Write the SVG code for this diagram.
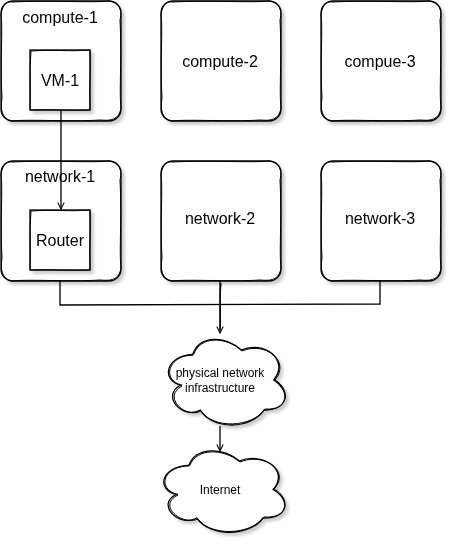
<svg xmlns="http://www.w3.org/2000/svg" width="452" height="552" viewBox="0 0 452 552">
<style>
.b{fill:#fff;stroke:#000;stroke-width:1.3}
.s{fill:none;stroke:#000;stroke-width:1}
.t{font-family:"Liberation Sans",Arial,sans-serif;font-size:16px;fill:#000;text-anchor:middle}
.c{font-family:"Liberation Sans",Arial,sans-serif;font-size:12px;fill:#000;text-anchor:middle}
.e{fill:none;stroke:#000;stroke-width:1.3}
</style>
<defs>
<filter id="sh" x="-10%" y="-10%" width="130%" height="130%">
<feDropShadow dx="3" dy="3" stdDeviation="1.5" flood-color="#000" flood-opacity="0.2"/>
</filter>
<marker id="ar" viewBox="0 0 10 10" refX="9" refY="5" markerWidth="8" markerHeight="8" orient="auto" markerUnits="userSpaceOnUse">
<path d="M1,1 L9,5 L1,9" fill="none" stroke="#000" stroke-width="1.3"/>
</marker>
</defs>
<rect width="452" height="552" fill="#fff"/>
<g id="compute-1" filter="url(#sh)">
<rect class="b" x="1" y="1" width="120" height="120" rx="12"/>
<path class="s" d="M13,2 C50,0 90,3 109,1 C121,3 122,12 120,20 C122,60 119,90 121,108 C119,120 111,121 100,120 C70,122 30,119 12,121 C2,119 0,110 2,98 C0,60 3,30 1,14 C3,3 8,1 13,2"/>
<text class="t" x="60" y="23">compute-1</text>
</g>
<g id="vm-1" filter="url(#sh)">
<rect class="b" x="30" y="50" width="60" height="60"/>
<path class="s" d="M31,51 C50,49 70,52 90,50 C91,70 89,90 90,110 C70,111 50,109 30,110 C31,90 29,70 31,51"/>
<text class="t" x="60" y="86">VM-1</text>
</g>
<g id="compute-2" filter="url(#sh)">
<rect class="b" x="161" y="1" width="120" height="120" rx="12"/>
<path class="s" d="M173,2 C210,0 250,3 269,1 C281,3 282,12 280,20 C282,60 279,90 281,108 C279,120 271,121 260,120 C230,122 190,119 172,121 C162,119 160,110 162,98 C160,60 163,30 161,14 C163,3 168,1 173,2"/>
<text class="t" x="220" y="67">compute-2</text>
</g>
<g id="compue-3" filter="url(#sh)">
<rect class="b" x="321" y="1" width="120" height="120" rx="12"/>
<path class="s" d="M333,2 C370,0 410,3 429,1 C441,3 442,12 440,20 C442,60 439,90 441,108 C439,120 431,121 420,120 C390,122 350,119 332,121 C322,119 320,110 322,98 C320,60 323,30 321,14 C323,3 328,1 333,2"/>
<text class="t" x="380" y="67">compue-3</text>
</g>
<g id="network-1" filter="url(#sh)">
<rect class="b" x="1" y="161" width="120" height="120" rx="12"/>
<path class="s" d="M13,162 C50,160 90,163 109,161 C121,163 122,172 120,180 C122,220 119,250 121,268 C119,280 111,281 100,280 C70,282 30,279 12,281 C2,279 0,270 2,258 C0,220 3,190 1,174 C3,163 8,161 13,162"/>
<text class="t" x="60" y="182">network-1</text>
</g>
<g id="router" filter="url(#sh)">
<rect class="b" x="30" y="210" width="60" height="60"/>
<path class="s" d="M31,211 C50,209 70,212 90,210 C91,230 89,250 90,270 C70,271 50,269 30,270 C31,250 29,230 31,211"/>
<text class="t" x="60" y="246">Router</text>
</g>
<g id="network-2" filter="url(#sh)">
<rect class="b" x="161" y="161" width="120" height="120" rx="12"/>
<path class="s" d="M173,162 C210,160 250,163 269,161 C281,163 282,172 280,180 C282,220 279,250 281,268 C279,280 271,281 260,280 C230,282 190,279 172,281 C162,279 160,270 162,258 C160,220 163,190 161,174 C163,163 168,161 173,162"/>
<text class="t" x="220" y="224">network-2</text>
</g>
<g id="network-3" filter="url(#sh)">
<rect class="b" x="321" y="161" width="120" height="120" rx="12"/>
<path class="s" d="M333,162 C370,160 410,163 429,161 C441,163 442,172 440,180 C442,220 439,250 441,268 C439,280 431,281 420,280 C390,282 350,279 332,281 C322,279 320,270 322,258 C320,220 323,190 321,174 C323,163 328,161 333,162"/>
<text class="t" x="380" y="224">network-3</text>
</g>
<g id="cloud-1" filter="url(#sh)">
<path class="b" d="M192.5,355 C166.5,355 160,380 180.8,385 C160,396 183.4,420 200.3,410 C212,430 251,430 264,410 C290,410 290,390 273.75,380 C290,360 264,340 241.25,350 C225,335 199,335 192.5,355 Z"/>
<path class="s" d="M194,354 C168,356 161,379 182,386 C162,397 185,419 201,411 C213,429 252,428 265,409 C289,411 291,389 275,380 C291,361 265,341 242,351 C226,336 200,336 194,354"/>
<text class="c" x="220" y="377">physical network</text>
<text class="c" x="220" y="392">infrastructure</text>
</g>
<g id="internet" filter="url(#sh)">
<path class="b" d="M188.75,465.75 C161.75,465.75 155,489.5 176.6,494.25 C155,504.7 179.3,527.5 196.85,518 C209,537 249.5,537 263,518 C290,518 290,499 273.1,489.5 C290,470.5 263,451.5 239.4,461 C222.5,446.75 195.5,446.75 188.75,465.75 Z"/>
<path class="s" d="M190,465 C163,467 156,488 178,495 C157,505 181,526 198,519 C210,536 250,536 264,517 C289,519 291,498 274,489 C291,471 264,452 240,462 C223,448 197,448 190,465"/>
<text class="c" x="220" y="494">Internet</text>
</g>
<g id="connectors">
<path class="e" d="M61,110 L61,209" marker-end="url(#ar)"/>
<path class="e" d="M60,281 L60,305 L380,304 L380,281"/>
<path class="e" d="M220,281 L220,333" marker-end="url(#ar)"/>
<path class="e" d="M221,283 C219,300 221,315 220,330"/>
<path class="e" d="M220,426 L220,451" marker-end="url(#ar)"/>
</g>
</svg>
